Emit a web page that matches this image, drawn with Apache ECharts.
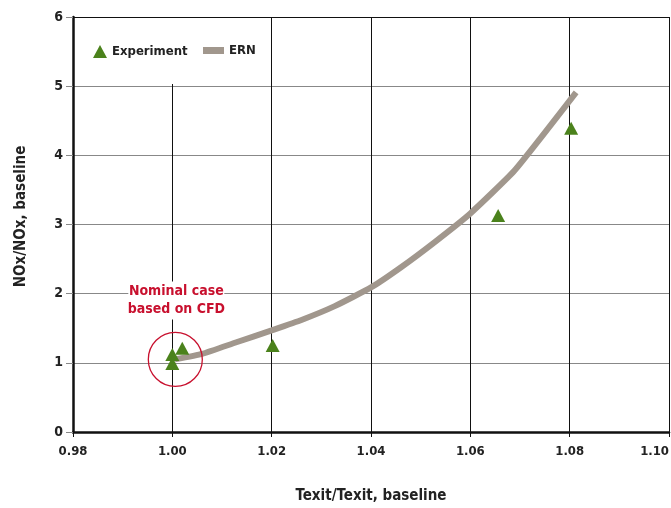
<!DOCTYPE html>
<html>
<head>
<meta charset="utf-8">
<script src="https://cdn.jsdelivr.net/npm/echarts@6/dist/echarts.min.js"></script>
<style>html,body{margin:0;padding:0;background:#fff}#c{width:671px;height:508px}</style>
</head>
<body>
<div id="c"></div>
<script>
// Experiment points [Texit ratio, NOx ratio]
const experimentX = [1.000, 1.000, 1.002, 1.0202, 1.0656, 1.0803];
const experimentY = [0.99, 1.12, 1.21, 1.25, 3.13, 4.39];
// ERN model curve
const ernX = [1.0005, 1.006, 1.0126, 1.020, 1.026, 1.0327, 1.040, 1.0462, 1.0529, 1.060, 1.0689, 1.0813];
const ernY = [1.05, 1.13, 1.29, 1.47, 1.62, 1.82, 2.09, 2.39, 2.75, 3.16, 3.78, 4.91];
// Annotation anchors (data coords)
const circleAt = [1.0006, 1.05];
const noteAt = [1.0008, 1.90];
const noteText = 'Nominal case\nbased on CFD';
const xTitle = 'Texit/Texit, baseline';
const yTitle = 'NOx/NOx, baseline';

const FONT = "'DejaVu Sans Condensed', 'Liberation Sans Narrow', sans-serif";
const RED = '#c8102e';

const chart = echarts.init(document.getElementById('c'), null, {renderer: 'canvas'});
chart.setOption({
  animation: false,
  backgroundColor: '#fff',
  grid: {left: 73, right: 2, top: 17, bottom: 76, containLabel: false, outerBoundsMode: 'none'},
  legend: [
    {
      data: [{name: 'Experiment', icon: 'triangle'}],
      left: 75, top: 18,
      padding: [27, 12, 26, 18],
      backgroundColor: '#fff',
      itemWidth: 14, itemHeight: 13, itemGap: 5,
      textStyle: {fontFamily: FONT, fontWeight: 'bold', fontSize: 13, color: '#222'}
    },
    {
      data: [{name: 'ERN', icon: 'rect'}],
      left: 198, top: 44,
      padding: [0, 5, 0, 5],
      itemWidth: 21, itemHeight: 7, itemGap: 5,
      textStyle: {fontFamily: FONT, fontWeight: 'bold', fontSize: 13, color: '#222'}
    }
  ],
  xAxis: {
    type: 'value', min: 0.98, max: 1.10, interval: 0.02,
    name: xTitle, nameLocation: 'middle', nameGap: 57,
    nameTextStyle: {fontFamily: FONT, fontWeight: 'bold', fontSize: 15, color: '#222'},
    axisLine: {show: true, onZero: false, lineStyle: {color: '#111', width: 2.5}},
    axisTick: {show: true, length: 5, lineStyle: {color: '#111', width: 1}},
    axisLabel: {margin: 13, fontFamily: FONT, fontWeight: 'bold', fontSize: 13, color: '#222',
      alignMaxLabel: 'right', formatter: v => v.toFixed(2)},
    splitLine: {show: true, lineStyle: {color: '#111', width: 1}}
  },
  yAxis: {
    type: 'value', min: 0, max: 6, interval: 1,
    name: yTitle, nameLocation: 'middle', nameGap: 44,
    nameTextStyle: {fontFamily: FONT, fontWeight: 'bold', fontSize: 15, color: '#222', padding: [0, 0, 0, 16]},
    axisLine: {show: true, onZero: false, lineStyle: {color: '#111', width: 2.5}},
    axisTick: {show: true, length: 7, lineStyle: {color: '#888', width: 1}},
    axisLabel: {margin: 10, fontFamily: FONT, fontWeight: 'bold', fontSize: 14, color: '#222'},
    splitLine: {show: true, lineStyle: {color: ['#888', '#888', '#888', '#888', '#888', '#888', '#111'], width: 1}}
  },
  series: [
    {
      name: 'ERN', type: 'line', z: 3,
      data: ernX.map((x, i) => [x, ernY[i]]),
      showSymbol: false, symbol: 'none', smooth: 0.15,
      lineStyle: {color: '#a1978d', width: 6, cap: 'butt'},
      itemStyle: {color: '#a1978d'}
    },
    {
      name: 'Experiment', type: 'scatter', z: 4,
      data: experimentX.map((x, i) => [x, experimentY[i]]),
      symbol: 'triangle', symbolSize: [14, 13],
      itemStyle: {color: '#4b821c', opacity: 1},
      markPoint: {
        silent: true,
        data: [
          {coord: circleAt, symbol: 'circle', symbolSize: 54,
           itemStyle: {color: 'rgba(0,0,0,0)', borderColor: RED, borderWidth: 1.3},
           label: {show: false}},
          {coord: noteAt, symbol: 'rect', symbolSize: [96, 38],
           itemStyle: {color: '#fff'},
           label: {show: true, position: 'inside', formatter: noteText, color: RED,
             fontFamily: FONT, fontWeight: 'bold', fontSize: 14, lineHeight: 18, align: 'center'}}
        ]
      }
    }
  ]
});
</script>
</body>
</html>
